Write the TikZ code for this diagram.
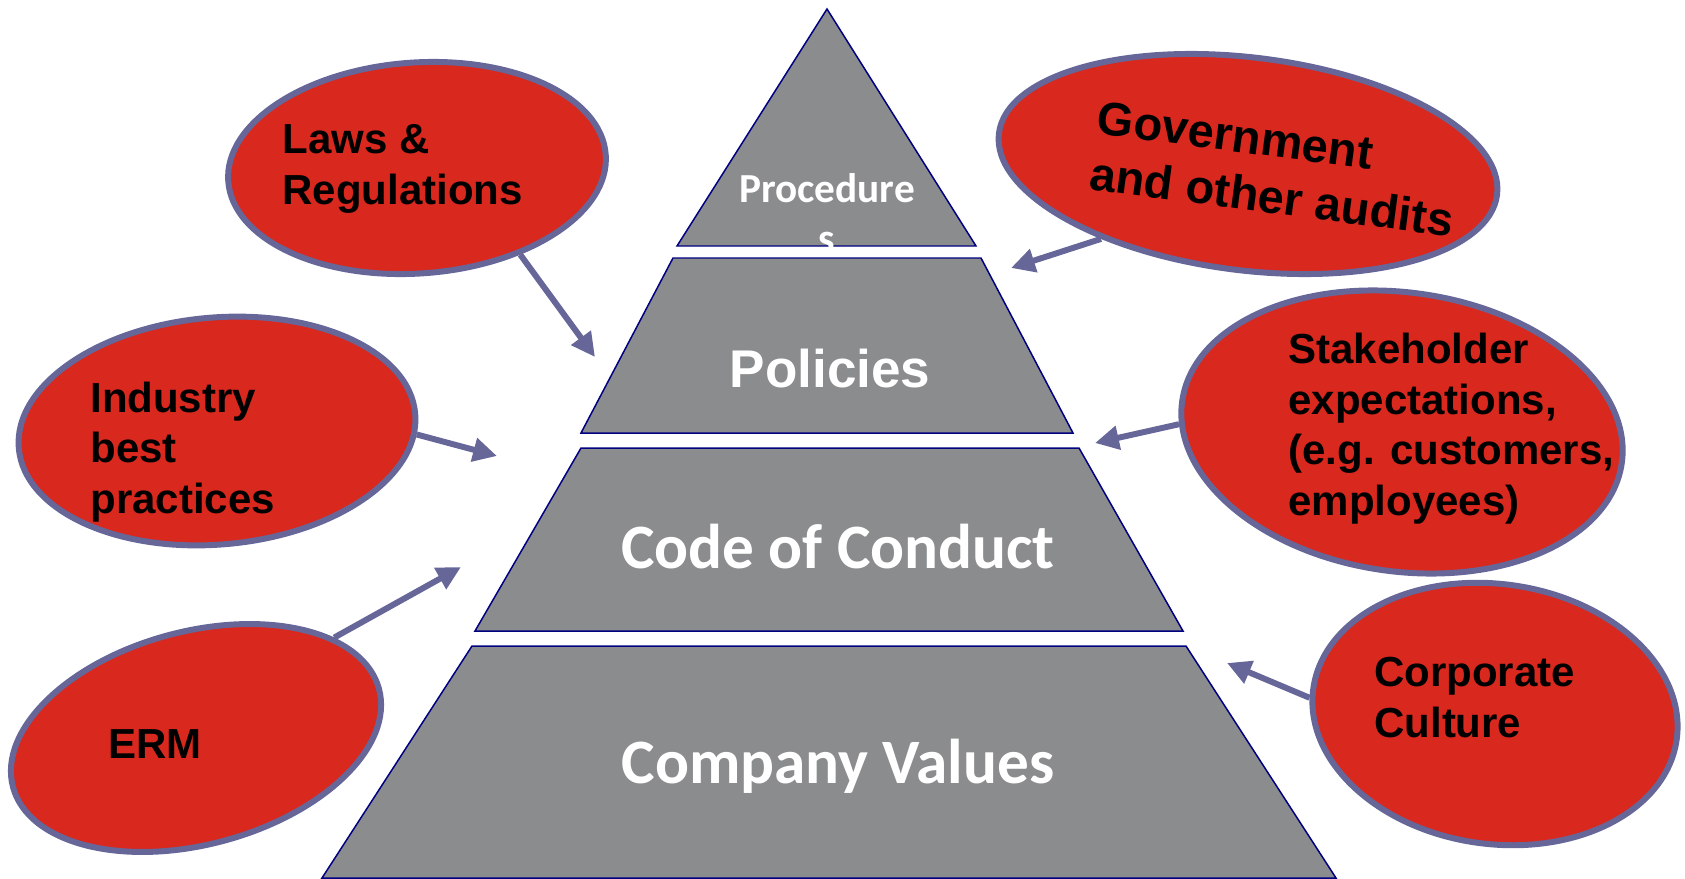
\documentclass[tikz,border=0pt]{standalone}
\usepackage{fontspec}
\setmainfont{Liberation Sans}
\newfontfamily\calibri{Carlito}
\usetikzlibrary{shapes.geometric,arrows.meta}

\definecolor{tiergray}{RGB}{138,140,141}
\definecolor{tierline}{RGB}{0,0,128}
\definecolor{bubblered}{RGB}{217,40,30}
\definecolor{bubbleedge}{RGB}{102,102,153}

\begin{document}
\begin{tikzpicture}[x=0.02cm, y=-0.02cm,
    tier/.style={fill=tiergray, draw=tierline, line width=0.85pt},
    tiertext/.style={anchor=base, inner sep=0pt, text=white, font=\calibri\bfseries\fontsize{36}{43}\selectfont},
    bubble/.style={ellipse, fill=bubblered, draw=bubbleedge, line width=3.4pt, inner sep=0pt},
    bubbletext/.style={anchor=base west, align=left, inner sep=0pt, font=\bfseries\fontsize{23.9}{28.7}\selectfont},
    feed/.style={draw=bubbleedge, line width=3.4pt, -{Triangle[length=13.6pt,width=13.2pt]}}]
  \useasboundingbox (0,0) rectangle (1685,879);

  % the four tiers
  \draw[tier] (827,9) -- (677,246) -- (976,246) -- cycle;
  \draw[tier] (673,258) -- (581,433) -- (1073,433) -- (981,258) -- cycle;
  \draw[tier] (581,448) -- (475,631) -- (1183,631) -- (1079,448) -- cycle;
  \draw[tier] (472,646) -- (322,878) -- (1336,878) -- (1186,646) -- cycle;

  % the label overflows the top tier, so its last line is cut off
  \begin{scope}
    \clip (600,0) rectangle (1100,249);
    \node[tiertext, align=center, font=\calibri\bfseries\fontsize{23.5}{28.3}\selectfont] (procedures) at (827,252) {Procedure\\s};
  \end{scope}
  \node[tiertext, font=\bfseries\fontsize{30.2}{36}\selectfont] (policies) at (830,387) {Policies};
  \node[tiertext] (conduct) at (838,568) {Code of Conduct};
  \node[tiertext] (values) at (838,783) {Company Values};

  % influences
  \node[bubble, minimum width=7.57cm, minimum height=4.22cm, rotate=4] (laws) at (417,168) {};
  \node[bubble, minimum width=10.04cm, minimum height=4.26cm, rotate=-7] (audits) at (1248,164) {};
  \node[bubble, minimum width=7.96cm, minimum height=4.54cm, rotate=5] (industry) at (217,431) {};
  \node[bubble, minimum width=8.88cm, minimum height=5.58cm, rotate=-8] (stakeholders) at (1402,432) {};
  \node[bubble, minimum width=7.58cm, minimum height=4.26cm, rotate=15] (erm) at (196,738) {};
  \node[bubble, minimum width=7.34cm, minimum height=5.2cm, rotate=-8] (culture) at (1495,714) {};

  % base west sits on the last line
  \node[bubbletext] (lawsText) at (282,204) {Laws \&\\Regulations};
  \node[bubbletext, rotate=-7.5, font=\bfseries\fontsize{26.8}{32}\selectfont] (auditsText) at (1088,189) {Government\\and other audits};
  \node[bubbletext] (industryText) at (90,513) {Industry\\best\\practices};
  \node[bubbletext] (stakeholdersText) at (1288,515) {Stakeholder\\expectations,\\(e.g. customers,\\employees)};
  \node[bubbletext] (ermText) at (108,758) {ERM};
  \node[bubbletext] (cultureText) at (1374,737) {Corporate\\Culture};

  \coordinate (lawsTip) at (595,357);
  \coordinate (auditsTip) at (1011,268);
  \coordinate (industryTip) at (497,456);
  \coordinate (stakeholdersTip) at (1095,443);
  \coordinate (ermTip) at (461,567);
  \coordinate (cultureTip) at (1227,663);

  \draw[feed] (laws.-44) -- (lawsTip);
  \draw[feed] (audits.214) -- (auditsTip);
  \draw[feed] (industry.-6) -- (industryTip);
  \draw[feed] (stakeholders.186) -- (stakeholdersTip);
  \draw[feed] (erm.21) -- (ermTip);
  \draw[feed] (culture.183) -- (cultureTip);
\end{tikzpicture}
\end{document}
